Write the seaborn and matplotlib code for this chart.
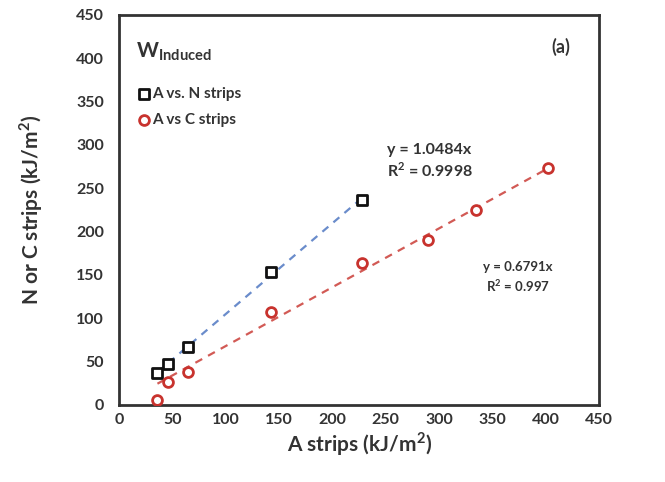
import numpy as np
import pandas as pd
import matplotlib
matplotlib.use("Agg")
import matplotlib.pyplot as plt
import seaborn as sns

# Data
a_n = [36, 46, 65, 142, 228]
n_strips = [37, 47, 67, 153, 237]
a_c = [36, 46, 65, 142, 228, 290, 335, 402]
c_strips = [6, 26, 38, 107, 164, 190, 225, 273]
slope_n = 1.0484
slope_c = 0.6791
x_ticks = [0, 50, 100, 150, 200, 250, 300, 350, 400, 450]
y_ticks = [0, 50, 100, 150, 200, 250, 300, 350, 400, 450]

sns.set_theme(style="white")
plt.rcParams['font.family'] = ['Lato', 'DejaVu Sans']
plt.rcParams['mathtext.fontset'] = 'custom'
plt.rcParams['mathtext.rm'] = 'Lato'
plt.rcParams['mathtext.bf'] = 'Lato:bold'

txt = '#333333'
red = '#C8332E'
blue = '#6A8CCB'
redline = '#D25A55'

fig = plt.figure(figsize=(6.65, 4.82), dpi=100)
ax = fig.add_axes([0.179, 0.160, 0.722, 0.809])

df_n = pd.DataFrame({'A': a_n, 'Y': n_strips})
df_c = pd.DataFrame({'A': a_c, 'Y': c_strips})

# trend lines (through origin)
tn = pd.DataFrame({'A': [min(a_n), max(a_n)]})
tn['Y'] = tn['A'] * slope_n
tc = pd.DataFrame({'A': [min(a_c), max(a_c)]})
tc['Y'] = tc['A'] * slope_c
sns.lineplot(data=tn, x='A', y='Y', ax=ax, color=blue, lw=1.6,
             linestyle=(0, (3.5, 3)), legend=False, zorder=2)
sns.lineplot(data=tc, x='A', y='Y', ax=ax, color=redline, lw=1.6,
             linestyle=(0, (3.5, 3)), legend=False, zorder=2)

sns.scatterplot(data=df_n, x='A', y='Y', ax=ax, marker='s', s=42,
                facecolor='white', edgecolor='#111111', linewidth=2,
                label='A vs. N strips', zorder=3)
sns.scatterplot(data=df_c, x='A', y='Y', ax=ax, marker='o', s=50,
                facecolor='white', edgecolor=red, linewidth=2,
                label='A vs C strips', zorder=3)

ax.set_xlim(0, 450)
ax.set_ylim(0, 450)
ax.set_xticks(x_ticks)
ax.set_yticks(y_ticks)
ax.tick_params(axis='both', length=0, labelsize=11.5, colors=txt)
ax.tick_params(axis='x', pad=6)
ax.tick_params(axis='y', pad=11)
for lab in ax.get_xticklabels() + ax.get_yticklabels():
    lab.set_fontweight('bold')
for sp in ax.spines.values():
    sp.set_color('#333333')
    sp.set_linewidth(2)

ax.set_xlabel('A strips (kJ/m$^\\mathbf{2}$)', fontsize=15, fontweight='bold', color=txt, labelpad=2)
ax.set_ylabel('N or C strips (kJ/m$^\\mathbf{2}$)', fontsize=15, fontweight='bold', color=txt, labelpad=22)

leg = ax.legend(loc='upper left', bbox_to_anchor=(0.04, 0.815), frameon=False,
                prop={'weight': 'bold', 'size': 11},
                handletextpad=0.1, borderaxespad=0.0, labelspacing=0.8,
                handlelength=0.8, borderpad=0.0)
for t in leg.get_texts():
    t.set_color(txt)

ax.text(0.035, 0.905, r'$\mathbf{W}_{\mathbf{Induced}}$', transform=ax.transAxes,
        fontsize=15, color=txt, ha='left', va='center')

ax.text(414, 413, '(a)', fontsize=13, fontweight='bold', color=txt, ha='center', va='center')
ax.text(291, 281, 'y = 1.0484x\nR$^\\mathbf{2}$ = 0.9998', fontsize=11.5, fontweight='bold',
        color=txt, ha='center', va='center', linespacing=1.3)
ax.text(374, 147, 'y = 0.6791x\nR$^\\mathbf{2}$ = 0.997', fontsize=9.5, fontweight='bold',
        color=txt, ha='center', va='center', linespacing=1.4)

fig.savefig('out.png', dpi=100)
